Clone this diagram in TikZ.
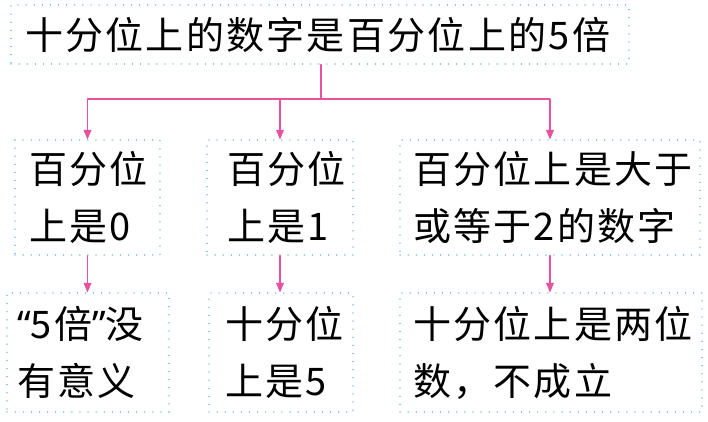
\documentclass[tikz,border=0pt]{standalone}
\usepackage{fontspec}
\newfontfamily\cjk[LetterSpace=6]{Noto Sans CJK SC}
\newfontfamily\latin{Noto Sans}
\usetikzlibrary{arrows}
\definecolor{dotteal}{RGB}{110,195,205}
\definecolor{linkpink}{RGB}{232,80,160}

\begin{document}
\begin{tikzpicture}[line cap=round,line join=round,>=triangle 45,x=1pt,y=-1pt,
	box/.style={draw=dotteal,line width=1.2pt,dash pattern=on 0.1pt off 8pt,
		inner sep=0pt,align=left,font=\cjk\fontsize{38}{57}\selectfont},
	link/.style={draw=linkpink,line width=1.2pt}]
			\useasboundingbox (0,0) rectangle (708,422);
			\node[box,minimum width=618,minimum height=59,text width=590] (whole) at (320,34.5) {十分位上的数字是百分位上的5倍};
			\node[box,minimum width=145,minimum height=115,text width=117] (zero) at (87.5,197.5) {百分位\\上是0};
			\node[box,minimum width=146,minimum height=115,text width=106] (one) at (280,197.5) {百分位\\上是1};
			\node[box,minimum width=300,minimum height=115,text width=274] (big) at (550,197.5) {百分位上是大于\\或等于2的数字};
			\node[box,minimum width=162,minimum height=119,text width=142] (nomean) at (88,352.5) {{\latin “}5倍{\latin ”}没\\有意义};
			\node[box,minimum width=144,minimum height=119,text width=112] (five) at (281,352.5) {十分位\\上是5};
			\node[box,minimum width=302,minimum height=119,text width=276] (twodig) at (551,352.5) {十分位上是两位\\数，不成立};
			\coordinate (split) at (321,99);
			\draw [link] (whole.south -| split)-- (split);
			\draw [link,->] (split) -| (zero.north);
			\draw [link,->] (split) -| (one.north);
			\draw [link,->] (split) -| (big.north);
			\draw [link,->] (zero.south)-- (zero.south |- nomean.north);
			\draw [link,->] (one.south)-- (one.south |- five.north);
			\draw [link,->] (big.south)-- (big.south |- twodig.north);
		\end{tikzpicture}
\end{document}
